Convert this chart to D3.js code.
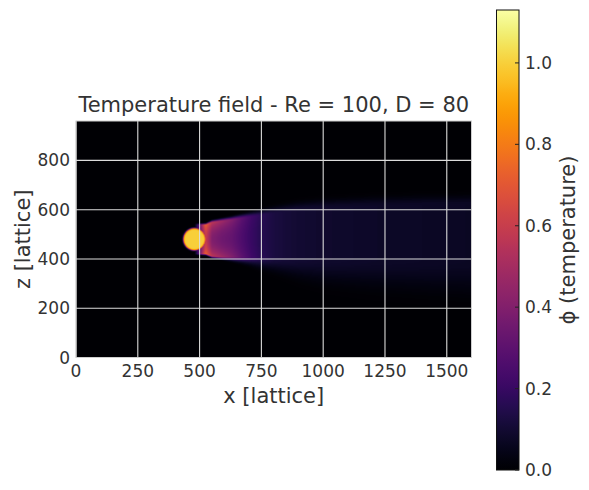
<!DOCTYPE html>
<html>
<head>
<meta charset="utf-8">
<script src="https://cdn.jsdelivr.net/npm/d3@7"></script>
<style>
  body { margin: 0; background: #fff; }
  text { font-family: "DejaVu Sans", sans-serif; fill: #333; }
</style>
</head>
<body>
<svg id="chart" width="589" height="490"></svg>
<script>
// domain of the lattice
const nx = 1600, nz = 960;
const xTicks = [0, 250, 500, 750, 1000, 1250, 1500];
const zTicks = [0, 200, 400, 600, 800];
const cbTicks = [0.0, 0.2, 0.4, 0.6, 0.8, 1.0];
const phiMax = 1.13;

// cylinder (hot body), visible radius incl. thermal layer
const cylX = 479, cylZ = 480, cylR = 45, cylPhi = 1.0;

// wake profile, along x
const wakeX        = [525, 550, 590, 630, 670, 710, 750, 800, 850, 900, 1000, 1200, 1400, 1600];
const wakeCore     = [0.60, 0.40, 0.35, 0.32, 0.26, 0.20, 0.155, 0.125, 0.11, 0.10, 0.09, 0.08, 0.075, 0.07];
const wakeLobe     = [0.72, 0.56, 0.48, 0.40, 0.30, 0.22, 0.165, 0.125, 0.11, 0.10, 0.09, 0.08, 0.075, 0.07];
const wakeTop      = [538, 548, 553, 558, 564, 570, 576, 584, 591, 597, 605, 613, 618, 622];
const wakeBottom   = [422, 413, 410, 410, 410, 410, 410, 408, 405, 402, 398, 395, 392, 390];
const wakeSoftTop  = [5, 7, 9, 11, 14, 17, 20, 24, 27, 30, 32, 34, 34, 34];
const wakeSoftBot  = [5, 7, 9, 14, 20, 28, 38, 48, 58, 68, 82, 97, 107, 117];

const svg = d3.select("#chart");
const margin = {left: 76, top: 121, right: 117.5, bottom: 132.5};
const W = 589, H = 490;

const x = d3.scaleLinear().domain([0, nx]).range([margin.left, W - margin.right]);
const z = d3.scaleLinear().domain([0, nz]).range([H - margin.bottom, margin.top]);
const color = d3.scaleSequential(d3.interpolateInferno).domain([0, phiMax]);

// profile lookup along x
const prof = arr => d3.scaleLinear().domain(wakeX).range(arr).clamp(true);
const pCore = prof(wakeCore), pLobe = prof(wakeLobe), pTop = prof(wakeTop),
      pBot = prof(wakeBottom), pSt = prof(wakeSoftTop), pSb = prof(wakeSoftBot);

function phi(px, pz) {
  const r = Math.hypot(px - cylX, pz - cylZ);
  let v = cylPhi / (1 + Math.exp((r - cylR) / 1.6));
  if (px > cylX) {
    const top = pTop(px), bot = pBot(px);
    const mid = (top + bot) / 2, half = (top - bot) / 2;
    const t = (pz - mid) / half;
    const c = pCore(px), e = pLobe(px);
    let w;
    if (Math.abs(t) <= 1) w = c + (e - c) * t * t;
    else if (t > 0) w = e * Math.exp(-Math.pow((pz - top) / pSt(px), 2));
    else w = e * Math.exp(-Math.pow((bot - pz) / pSb(px), 2));
    // wake starts at the rear of the cylinder
    const ramp = Math.min(1, Math.max(0, (px - cylX) / cylR));
    v = Math.max(v, w * ramp);
  }
  return v;
}

// field image
const res = 4;
const cw = nx / res, ch = nz / res;
const canvas = document.createElement("canvas");
canvas.width = cw; canvas.height = ch;
const ctx = canvas.getContext("2d");
const img = ctx.createImageData(cw, ch);
for (let j = 0; j < ch; j++) {
  for (let i = 0; i < cw; i++) {
    const c = d3.rgb(color(phi((i + 0.5) * res, nz - (j + 0.5) * res)));
    const k = (j * cw + i) * 4;
    img.data[k] = c.r; img.data[k + 1] = c.g; img.data[k + 2] = c.b; img.data[k + 3] = 255;
  }
}
ctx.putImageData(img, 0, 0);

svg.append("image")
  .attr("href", canvas.toDataURL())
  .attr("x", x(0)).attr("y", z(nz))
  .attr("width", x(nx) - x(0)).attr("height", z(0) - z(nz))
  .attr("preserveAspectRatio", "none");

// grid
svg.append("g").selectAll("line.gx").data(xTicks).enter().append("line")
  .attr("x1", d => x(d)).attr("x2", d => x(d))
  .attr("y1", z(0)).attr("y2", z(nz))
  .attr("stroke", "#dcdcdc").attr("stroke-width", 1.1);
svg.append("g").selectAll("line.gz").data(zTicks).enter().append("line")
  .attr("x1", x(0)).attr("x2", x(nx))
  .attr("y1", d => z(d)).attr("y2", d => z(d))
  .attr("stroke", "#dcdcdc").attr("stroke-width", 1.1);

// frame
svg.append("rect")
  .attr("x", x(0)).attr("y", z(nz))
  .attr("width", x(nx) - x(0)).attr("height", z(0) - z(nz))
  .attr("fill", "none").attr("stroke", "#cfcfcf").attr("stroke-width", 1);

// tick labels
svg.append("g").selectAll("text").data(xTicks).enter().append("text")
  .attr("x", d => x(d)).attr("y", z(0) + 19.5)
  .attr("text-anchor", "middle").style("font-size", "17px")
  .text(d => d);
svg.append("g").selectAll("text").data(zTicks).enter().append("text")
  .attr("x", x(0) - 6).attr("y", d => z(d) + 6)
  .attr("text-anchor", "end").style("font-size", "17px")
  .text(d => d);

// axis labels and title
svg.append("text")
  .attr("x", (x(0) + x(nx)) / 2).attr("y", 403)
  .attr("text-anchor", "middle").style("font-size", "21px")
  .text("x [lattice]");
svg.append("text")
  .attr("transform", `translate(30,${(z(0) + z(nz)) / 2}) rotate(-90)`)
  .attr("text-anchor", "middle").style("font-size", "21px")
  .text("z [lattice]");
svg.append("text")
  .attr("x", (x(0) + x(nx)) / 2).attr("y", 112)
  .attr("text-anchor", "middle").style("font-size", "21px")
  .text("Temperature field - Re = 100, D = 80");

// colorbar
const cbX = 496.5, cbW = 22.5;
const cb = d3.scaleLinear().domain([0, phiMax]).range([470, 10]);
const grad = svg.append("defs").append("linearGradient")
  .attr("id", "cbgrad").attr("x1", 0).attr("x2", 0).attr("y1", 1).attr("y2", 0);
d3.range(0, 1.0001, 0.02).forEach(t => {
  grad.append("stop").attr("offset", t).attr("stop-color", color(t * phiMax));
});
svg.append("rect")
  .attr("x", cbX).attr("y", cb(phiMax))
  .attr("width", cbW).attr("height", cb(0) - cb(phiMax))
  .attr("fill", "url(#cbgrad)").attr("stroke", "#111").attr("stroke-width", 1);
svg.append("g").selectAll("line").data(cbTicks).enter().append("line")
  .attr("x1", cbX + cbW - 4).attr("x2", cbX + cbW)
  .attr("y1", d => cb(d)).attr("y2", d => cb(d))
  .attr("stroke", "#222").attr("stroke-width", 1);
svg.append("g").selectAll("text").data(cbTicks).enter().append("text")
  .attr("x", cbX + cbW + 6).attr("y", d => cb(d) + 6)
  .style("font-size", "17px")
  .text(d => d.toFixed(1));
svg.append("text")
  .attr("transform", `translate(575,240) rotate(-90)`)
  .attr("text-anchor", "middle").style("font-size", "21px")
  .text("\u03D5 (temperature)");
</script>
</body>
</html>
